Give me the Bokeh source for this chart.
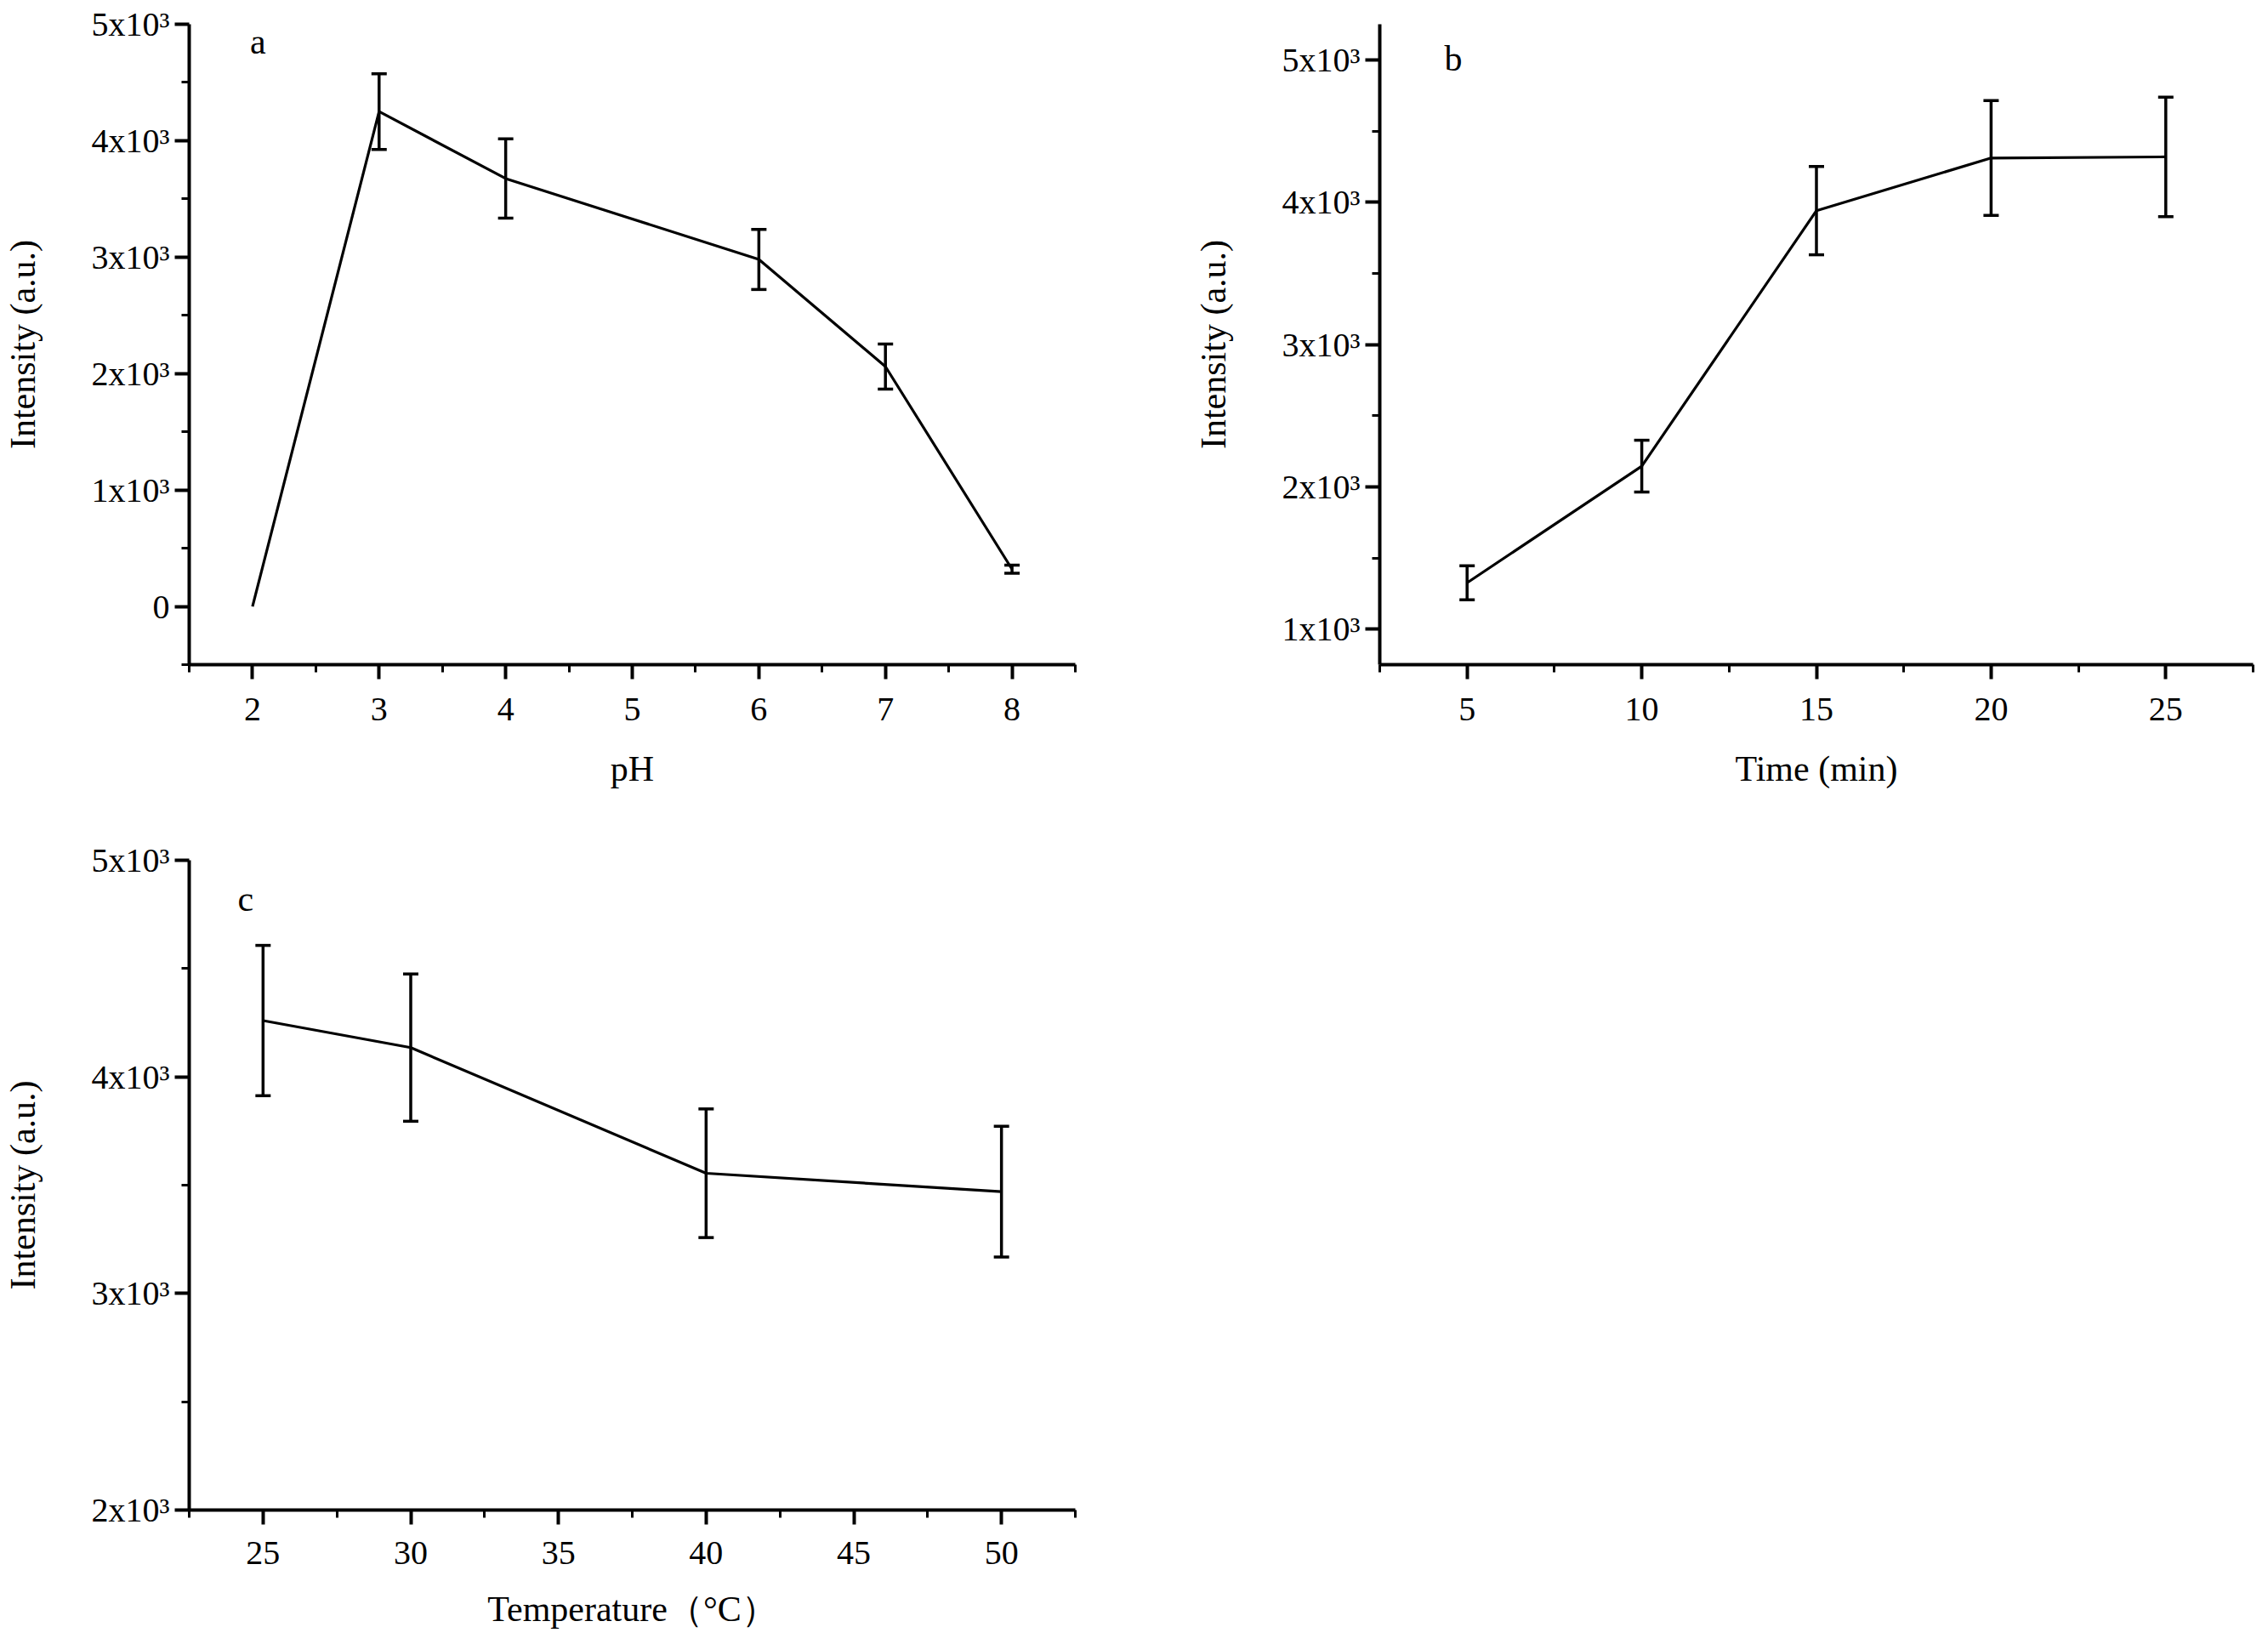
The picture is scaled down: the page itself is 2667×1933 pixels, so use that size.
from bokeh.plotting import figure
from bokeh.models import FixedTicker, Whisker, ColumnDataSource, Label, TeeHead, Range1d
from bokeh.layouts import column, row
from bokeh.embed import file_html
from bokeh.resources import INLINE

FONT = "Liberation Serif"

# ---- data: panel a (pH) ----
ph = [2, 3, 4, 6, 7, 8]
ph_intensity = [0, 4250, 3675, 2980, 2060, 320]
ph_error = [0, 325, 340, 258, 193, 35]

# ---- data: panel b (time) ----
time_min = [5, 10, 15, 20, 25]
time_intensity = [1325, 2145, 3940, 4310, 4318]
time_error = [120, 182, 310, 403, 420]

# ---- data: panel c (temperature) ----
temp_c = [25, 30, 40, 50]
temp_intensity = [4260, 4135, 3555, 3470]
temp_error = [347, 340, 297, 302]

# ---- ticks ----
ya_ticks = [0, 1000, 2000, 3000, 4000, 5000]
ya_labels = ["0", "1x10³", "2x10³", "3x10³", "4x10³", "5x10³"]
ya_minor = [-500, 500, 1500, 2500, 3500, 4500]
xa_ticks = [2, 3, 4, 5, 6, 7, 8]
xa_minor = [1.5, 2.5, 3.5, 4.5, 5.5, 6.5, 7.5, 8.5]

yb_ticks = [1000, 2000, 3000, 4000, 5000]
yb_labels = ["1x10³", "2x10³", "3x10³", "4x10³", "5x10³"]
yb_minor = [1500, 2500, 3500, 4500]
xb_ticks = [5, 10, 15, 20, 25]
xb_minor = [2.5, 7.5, 12.5, 17.5, 22.5, 27.5]

yc_ticks = [2000, 3000, 4000, 5000]
yc_labels = ["2x10³", "3x10³", "4x10³", "5x10³"]
yc_minor = [2500, 3500, 4500]
xc_ticks = [25, 30, 35, 40, 45, 50]
xc_minor = [22.5, 27.5, 32.5, 37.5, 42.5, 47.5, 52.5]


def make_panel(x, y, err, xr, yr, xt, xm, yt, ylabels, ym, xlabel, letter, lxy,
               width, height, bl, br, bt, bb, xstand, xlstand):
    p = figure(width=width, height=height, x_range=Range1d(*xr), y_range=Range1d(*yr),
               output_backend="svg", toolbar_location=None,
               min_border_left=bl, min_border_right=br, min_border_top=bt, min_border_bottom=bb)
    p.outline_line_color = None
    p.grid.visible = False
    p.background_fill_color = "white"
    p.border_fill_color = "white"

    p.xaxis.ticker = FixedTicker(ticks=xt, minor_ticks=xm)
    p.yaxis.ticker = FixedTicker(ticks=yt, minor_ticks=ym)
    p.yaxis.major_label_overrides = {t: l for t, l in zip(yt, ylabels)}
    p.xaxis.axis_label = xlabel
    p.yaxis.axis_label = "Intensity (a.u.)"

    for ax in (p.xaxis[0], p.yaxis[0]):
        ax.axis_line_width = 4
        ax.axis_line_color = "black"
        ax.major_tick_line_width = 4
        ax.minor_tick_line_width = 3
        ax.major_tick_line_color = "black"
        ax.minor_tick_line_color = "black"
        ax.major_tick_in = 0
        ax.minor_tick_in = 0
        ax.major_tick_out = 17
        ax.minor_tick_out = 9
        ax.major_label_text_font = FONT
        ax.major_label_text_font_size = "40px"
        ax.major_label_text_color = "black"
        ax.axis_label_text_font = FONT
        ax.axis_label_text_font_size = "42px"
        ax.axis_label_text_font_style = "normal"
        ax.axis_label_text_color = "black"
    p.xaxis.major_label_standoff = xstand
    p.xaxis.axis_label_standoff = xlstand
    p.yaxis.major_label_standoff = 6
    p.yaxis.axis_label_standoff = 55

    p.line(x, y, line_width=3.2, line_color="black")

    xs = [xi for xi, e in zip(x, err) if e > 0]
    up = [yi + e for yi, e in zip(y, err) if e > 0]
    lo = [yi - e for yi, e in zip(y, err) if e > 0]
    src = ColumnDataSource(dict(x=xs, upper=up, lower=lo))
    w = Whisker(base="x", upper="upper", lower="lower", source=src, dimension="height",
                line_width=3.5, line_color="black")
    w.upper_head = TeeHead(size=18, line_width=3.5, line_color="black")
    w.lower_head = TeeHead(size=18, line_width=3.5, line_color="black")
    p.add_layout(w)

    p.add_layout(Label(x=lxy[0], y=lxy[1], text=letter, text_font=FONT,
                       text_font_size="42px", text_baseline="alphabetic",
                       text_align="left", text_color="black"))
    return p


pa = make_panel(ph, ph_intensity, ph_error, (1.5, 8.5), (-500, 5000),
                xa_ticks, xa_minor, ya_ticks, ya_labels, ya_minor, "pH", "a", (1.98, 4850),
                1400, 987, 210, 136, 14, 206, 22, 31)
pb = make_panel(time_min, time_intensity, time_error, (2.5, 27.5), (750, 5250),
                xb_ticks, xb_minor, yb_ticks, yb_labels, yb_minor, "Time (min)", "b", (4.35, 5010),
                1251, 987, 206, 2, 28, 204, 22, 31)
pc = make_panel(temp_c, temp_intensity, temp_error, (22.5, 52.5), (2000, 5000),
                xc_ticks, xc_minor, yc_ticks, yc_labels, yc_minor, "Temperature（°C）", "c", (24.14, 4820),
                1400, 930, 210, 136, 24, 141, 20, 27)

layout = column(row(pa, pb), pc)

with open("out.html", "w") as f:
    f.write(file_html(layout, INLINE))
